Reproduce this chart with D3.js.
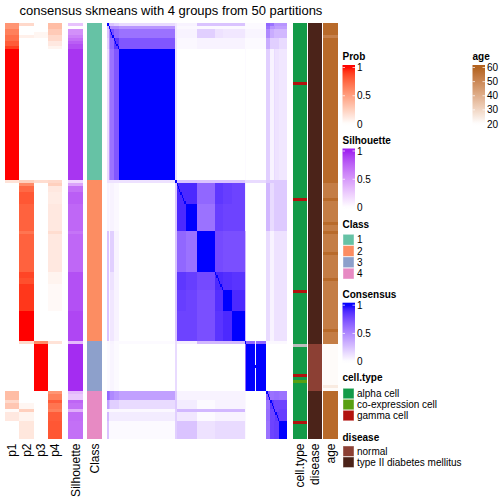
<!DOCTYPE html>
<html><head><meta charset="utf-8">
<script src="https://cdn.jsdelivr.net/npm/d3@7"></script>
<style>body{margin:0;background:#fff}svg{display:block}text{font-family:"Liberation Sans",Arial,Helvetica,sans-serif;fill:#000}</style>
</head><body><svg id="c" width="504" height="504"></svg>
<script>
// ---------------- DATA ----------------
const titleText = "consensus skmeans with 4 groups from 50 partitions";
// sample blocks (consecutive samples in heatmap order)
const blockNames = ["a","b","c","d","e","X","A","B","C","D","E","F","H","I1","I2","I3","G1","G2","G3a","G3b","G4"];
const blockSizes = [1,1,3,4,44,1,7,9,14,6,7,10,1,7,1,8,3,3,1,3,6];
// block-by-block consensus (row block x column block); diagonal cells are 1
const consensusBlocks = [
 [1,0.3,0.25,0.2,0.15,0.1,0.05,0.05,0.25,0.25,0.25,0.25,0.03,0.02,0.02,0.02,0.65,0.6,0.45,0.45,0.45],
 [0.3,1,0.5,0.5,0.45,0.1,0.03,0.03,0.03,0.03,0.03,0.03,0.02,0.02,0.02,0.02,0.6,0.45,0.45,0.4,0.4],
 [0.25,0.5,0.75,0.65,0.6,0.1,0.05,0.05,0.2,0.12,0.1,0.1,0.05,0.04,0.04,0.04,0.5,0.35,0.3,0.3,0.3],
 [0.2,0.5,0.65,0.85,0.72,0.12,0.03,0.03,0.05,0.05,0.05,0.05,0.02,0.02,0.02,0.02,0.35,0.2,0.2,0.2,0.15],
 [0.15,0.45,0.6,0.72,1,0.12,0,0,0,0,0,0,0.02,0,0,0,0.2,0.05,0.15,0.12,0.1],
 [0.12,0.12,0.12,0.12,0.12,1,0.25,0.25,0.25,0.25,0.25,0.25,0.15,0.15,0.15,0.15,0.22,0.22,0.22,0.22,0.22],
 [0.05,0.03,0.05,0.03,0,0.25,0.9,0.9,0.65,0.85,0.82,0.8,0.07,0,0,0,0.3,0.15,0.22,0.22,0.22],
 [0.05,0.03,0.05,0.03,0,0.25,0.9,1,0.6,0.82,0.8,0.8,0.07,0,0,0,0.3,0.15,0.22,0.22,0.22],
 [0.25,0.03,0.2,0.05,0,0.25,0.65,0.6,1,0.77,0.75,0.75,0.3,0,0,0,0.15,0.05,0.12,0.12,0.12],
 [0.25,0.03,0.12,0.05,0,0.25,0.85,0.82,0.77,0.9,0.88,0.86,0.3,0,0,0,0.15,0.05,0.12,0.12,0.12],
 [0.25,0.03,0.1,0.05,0,0.25,0.82,0.8,0.75,0.88,1,0.9,0.3,0,0,0,0.15,0.05,0.12,0.12,0.12],
 [0.25,0.03,0.1,0.05,0,0.25,0.8,0.8,0.75,0.86,0.9,1,0.3,0,0,0,0.15,0.05,0.12,0.12,0.12],
 [0.03,0.02,0.05,0.02,0.02,0.15,0.07,0.07,0.3,0.3,0.3,0.3,1,0.65,0.05,0.65,0.03,0.03,0.03,0.03,0.03],
 [0.02,0.02,0.04,0.02,0,0.15,0,0,0,0,0,0,0.65,1,0.05,1,0,0,0,0,0],
 [0.02,0.02,0.04,0.02,0,0.15,0,0,0,0,0,0,0.65,1,1,1,0,0,0,0,0],
 [0.02,0.02,0.04,0.02,0,0.15,0,0,0,0,0,0,0.65,1,0.05,1,0,0,0,0,0],
 [0.65,0.6,0.5,0.45,0.4,0.22,0.05,0.05,0.05,0.05,0.05,0.05,0.03,0,0,0,0.7,0.6,0.62,0.62,0.6],
 [0.4,0.3,0.2,0.2,0.15,0.22,0.08,0.08,0.02,0.05,0.05,0.05,0.03,0,0,0,0.6,0.85,0.8,0.8,0.8],
 [0.05,0.03,0.03,0.03,0.03,0.2,0.3,0.3,0.3,0.3,0.3,0.3,0.03,0,0,0,0.62,0.8,1,0.8,0.82],
 [0.3,0.08,0.08,0.08,0.08,0.2,0.1,0.1,0.02,0.05,0.05,0.05,0.03,0,0,0,0.62,0.8,0.8,0.85,0.82],
 [0.25,0.02,0.02,0.02,0.02,0.2,0.25,0.25,0.12,0.15,0.15,0.15,0.03,0,0,0,0.6,0.8,0.82,0.82,1]
];
// per-sample annotations as runs [count, value]
const classRuns = [[53,1],[54,2],[17,3],[16,4]];
const p1Runs = [[2,0.55],[2,0.65],[2,0.72],[2,0.8],[1,0.9],[44,1],[1,0.15],[53,0],[17,0],[3,0.35],[1,0.2],[2,0.3],[1,0.02],[3,0.12],[6,0]];
const p2Runs = [[1,0.2],[3,0],[1,0.08],[48,0],[1,0.25],[1,0.6],[2,0.75],[4,0.82],[9,0.78],[1,0.7],[13,0.78],[2,0.88],[2,0.85],[9,0.92],[10,1],[1,0.2],[16,0],[4,0],[2,0.05],[1,0.25],[3,0.06],[6,0.13]];
const p3Runs = [[3,0],[2,0.05],[48,0],[1,0.18],[53,0],[1,0.6],[16,1],[16,0]];
const p4Runs = [[2,0.35],[2,0.28],[2,0.2],[2,0.12],[1,0.06],[44,0],[1,0.2],[1,0.25],[2,0.12],[4,0.1],[9,0.12],[1,0.18],[13,0.12],[4,0.06],[9,0.03],[10,0],[1,0.15],[16,0],[1,0.55],[2,0.65],[1,0.8],[2,0.7],[1,0.65],[3,0.8],[6,0.82]];
const silRuns = [[1,0.3],[1,0.02],[2,0.55],[1,0.62],[1,0.7],[1,0.78],[2,0.85],[44,0.94],[1,0.2],[1,0.45],[2,0.7],[4,0.78],[9,0.74],[1,0.68],[13,0.74],[13,0.84],[10,0.88],[1,0.35],[16,0.97],[1,0.35],[2,0.28],[1,0.75],[2,0.7],[1,0.4],[3,0.72],[6,0.7]];
const cellTypeRuns = [[20,"alpha cell"],[1,"gamma cell"],[38,"alpha cell"],[1,"gamma cell"],[30,"alpha cell"],[1,"gamma cell"],[17,"alpha cell"],[1,"NA"],[9,"alpha cell"],[1,"gamma cell"],[1,"alpha cell"],[1,"co-expression cell"],[13,"alpha cell"],[1,"gamma cell"],[5,"alpha cell"]];
const diseaseRuns = [[108,"type II diabetes mellitus"],[16,"normal"],[16,"type II diabetes mellitus"]];
const ageRuns = [[4,58],[1,52],[48,58],[1,58],[5,53],[1,58],[7,53],[1,58],[2,53],[1,58],[6,53],[1,58],[8,53],[1,58],[16,53],[1,58],[3,53],[1,53],[14,21],[1,25],[1,21],[16,58]];
const classLevels = [1,2,3,4];
const cellTypeLevels = ["alpha cell","co-expression cell","gamma cell"];
const diseaseLevels = ["normal","type II diabetes mellitus"];
const probTicks = [0,0.5,1];
const ageTicks = [20,30,40,50,60];

// ---------------- COLOURS ----------------
const classColors = ["#66C2A5","#FC8D62","#8DA0CB","#E78AC3"];
const cellTypeColors = {"alpha cell":"#139A48","co-expression cell":"#58A012","gamma cell":"#B2120E","NA":"#BEBEBE"};
const diseaseColors = {"normal":"#8C4034","type II diabetes mellitus":"#4B2319"};
const probColor = d3.scaleLinear().domain([0,1]).range(["#FFFFFF","#FF0000"]).interpolate(d3.interpolateLab);
const silColor = d3.scaleLinear().domain([0,1]).range(["#FFFFFF","#A020F0"]).interpolate(d3.interpolateLab);
const consColor = d3.scaleLinear().domain([0,1]).range(["#FFFFFF","#0000FF"]).interpolate(d3.interpolateLab);
const ageColor = d3.scaleLinear().domain([20,60]).range(["#FFFFFF","#B3621E"]).interpolate(d3.interpolateLab);

// ---------------- HELPERS ----------------
function expand(runs){const out=[];runs.forEach(([n,v])=>{for(let k=0;k<n;k++)out.push(v);});return out;}
const blockOf = expand(blockSizes.map((n,b)=>[n,b]));
const N = blockOf.length;
const cls = expand(classRuns), p1 = expand(p1Runs), p2 = expand(p2Runs), p3 = expand(p3Runs), p4 = expand(p4Runs);
const sil = expand(silRuns), cellType = expand(cellTypeRuns), disease = expand(diseaseRuns), age = expand(ageRuns);

const svg = d3.select("#c");

// ---------------- SCALES ----------------
const y = d3.scaleBand().domain(d3.range(N)).range([22.7, 439]);
const x = d3.scaleBand().domain(d3.range(N)).range([107.3, 287]);
const xProb = d3.scaleBand().domain(["p1","p2","p3","p4"]).range([5, 62]);
const xLeft = d3.scaleBand().domain(["Silhouette","Class"]).range([68, 102]).paddingInner(0.18);
const xRight = d3.scaleBand().domain(["cell.type","disease","age"]).range([292.7, 337.5]).paddingInner(0.07);

// title
svg.append("text").attr("x", 171).attr("y", 14.5).attr("text-anchor","middle")
  .style("font-size","13px").text(titleText);

// ---------------- HEATMAP ----------------
const cells = [];
for (let i=0;i<N;i++) for (let j=0;j<N;j++) cells.push([i,j, i===j?1:consensusBlocks[blockOf[i]][blockOf[j]]]);
svg.append("g").attr("shape-rendering","crispEdges").selectAll("rect").data(cells).join("rect")
  .attr("x", d=>x(d[1])).attr("y", d=>y(d[0]))
  .attr("width", x.bandwidth()+0.3).attr("height", y.bandwidth()+0.3)
  .attr("fill", d=>consColor(d[2]));

// ---------------- LEFT ANNOTATIONS ----------------
const probCols = {p1, p2, p3, p4};
const gL = svg.append("g").attr("shape-rendering","crispEdges");
Object.keys(probCols).forEach(k=>{
  gL.append("g").selectAll("rect").data(probCols[k]).join("rect")
    .attr("x", xProb(k)).attr("y", (d,i)=>y(i)).attr("width", xProb.bandwidth()+0.3).attr("height", y.bandwidth()+0.3)
    .attr("fill", d=>probColor(d));
});
gL.append("g").selectAll("rect").data(sil).join("rect")
  .attr("x", xLeft("Silhouette")).attr("y",(d,i)=>y(i)).attr("width", xLeft.bandwidth()).attr("height", y.bandwidth()+0.3)
  .attr("fill", d=>silColor(d));
gL.append("g").selectAll("rect").data(cls).join("rect")
  .attr("x", xLeft("Class")).attr("y",(d,i)=>y(i)).attr("width", xLeft.bandwidth()).attr("height", y.bandwidth()+0.3)
  .attr("fill", d=>classColors[d-1]);

// ---------------- RIGHT ANNOTATIONS ----------------
const gR = svg.append("g").attr("shape-rendering","crispEdges");
gR.append("g").selectAll("rect").data(cellType).join("rect")
  .attr("x", xRight("cell.type")).attr("y",(d,i)=>y(i)).attr("width", xRight.bandwidth()).attr("height", y.bandwidth()+0.3)
  .attr("fill", d=>cellTypeColors[d]);
gR.append("g").selectAll("rect").data(disease).join("rect")
  .attr("x", xRight("disease")).attr("y",(d,i)=>y(i)).attr("width", xRight.bandwidth()).attr("height", y.bandwidth()+0.3)
  .attr("fill", d=>diseaseColors[d]);
gR.append("g").selectAll("rect").data(age).join("rect")
  .attr("x", xRight("age")).attr("y",(d,i)=>y(i)).attr("width", xRight.bandwidth()).attr("height", y.bandwidth()+0.3)
  .attr("fill", d=>ageColor(d));

// ---------------- BOTTOM LABELS ----------------
const bottomLabels = [
  ...xProb.domain().map(k=>[k, xProb(k)+xProb.bandwidth()/2]),
  ...xLeft.domain().map(k=>[k, xLeft(k)+xLeft.bandwidth()/2]),
  ...xRight.domain().map(k=>[k, xRight(k)+xRight.bandwidth()/2])
];
svg.append("g").selectAll("text").data(bottomLabels).join("text")
  .attr("transform", d=>`translate(${d[1]},443.5) rotate(-90)`)
  .attr("text-anchor","end").attr("dy","0.35em").style("font-size","12px").text(d=>d[0]);

// ---------------- LEGENDS ----------------
const defs = svg.append("defs");
function contLegend(id, title, lx, titleY, scale, ticks, vmin, vmax){
  const barTop = titleY + 5, barW = 12.5, barH = 61;
  const pos = v => barTop + 2.5 + (vmax - v)/(vmax - vmin) * 56.5;
  svg.append("text").attr("x", lx).attr("y", titleY).style("font-size","10px").style("font-weight","bold").text(title);
  const grad = defs.append("linearGradient").attr("id", id).attr("x1",0).attr("y1",0).attr("x2",0).attr("y2",1);
  d3.range(0, 1.0001, 0.05).forEach(t=>{
    const yy = barTop + t*barH;
    let v = vmax - (yy - barTop - 2.5)/56.5*(vmax - vmin);
    v = Math.max(vmin, Math.min(vmax, v));
    grad.append("stop").attr("offset", t).attr("stop-color", scale(v));
  });
  svg.append("rect").attr("x", lx).attr("y", barTop).attr("width", barW).attr("height", barH).attr("fill", `url(#${id})`);
  const g = svg.append("g");
  ticks.forEach(v=>{
    const yy = pos(v);
    g.append("line").attr("x1", lx).attr("x2", lx+2.5).attr("y1", yy).attr("y2", yy).attr("stroke","#fff").attr("stroke-opacity",0.7).attr("stroke-width",1);
    g.append("line").attr("x1", lx+barW-2.5).attr("x2", lx+barW).attr("y1", yy).attr("y2", yy).attr("stroke","#fff").attr("stroke-opacity",0.7).attr("stroke-width",1);
    g.append("text").attr("x", lx+barW+2).attr("y", yy).attr("dy","0.35em").style("font-size","10px").text(v);
  });
}
function discLegend(title, lx, titleY, firstY, step, levels, colorOf){
  svg.append("text").attr("x", lx).attr("y", titleY).style("font-size","10px").style("font-weight","bold").text(title);
  const g = svg.append("g");
  g.selectAll("rect").data(levels).join("rect")
    .attr("x", lx+0.5).attr("y",(d,i)=>firstY+i*step).attr("width", 11).attr("height", step-0.5)
    .attr("fill", d=>colorOf(d)).attr("stroke","#fff").attr("stroke-opacity",0.5).attr("stroke-width",0.8);
  g.selectAll("text").data(levels).join("text")
    .attr("x", lx+14.5).attr("y",(d,i)=>firstY+i*step+step/2).attr("dy","0.35em").style("font-size","10px").text(d=>d);
}
contLegend("gProb","Prob",342.5,60,probColor,probTicks,0,1);
contLegend("gSil","Silhouette",342.5,143.5,silColor,probTicks,0,1);
discLegend("Class",342.5,227.7,234.3,11.3,classLevels,d=>classColors[d-1]);
contLegend("gCons","Consensus",342.5,297.7,consColor,probTicks,0,1);
discLegend("cell.type",342.5,381,388.3,11,cellTypeLevels,d=>cellTypeColors[d]);
discLegend("disease",342.5,440.5,446,11,diseaseLevels,d=>diseaseColors[d]);
contLegend("gAge","age",472.5,60,ageColor,ageTicks,20,60);
</script></body></html>
